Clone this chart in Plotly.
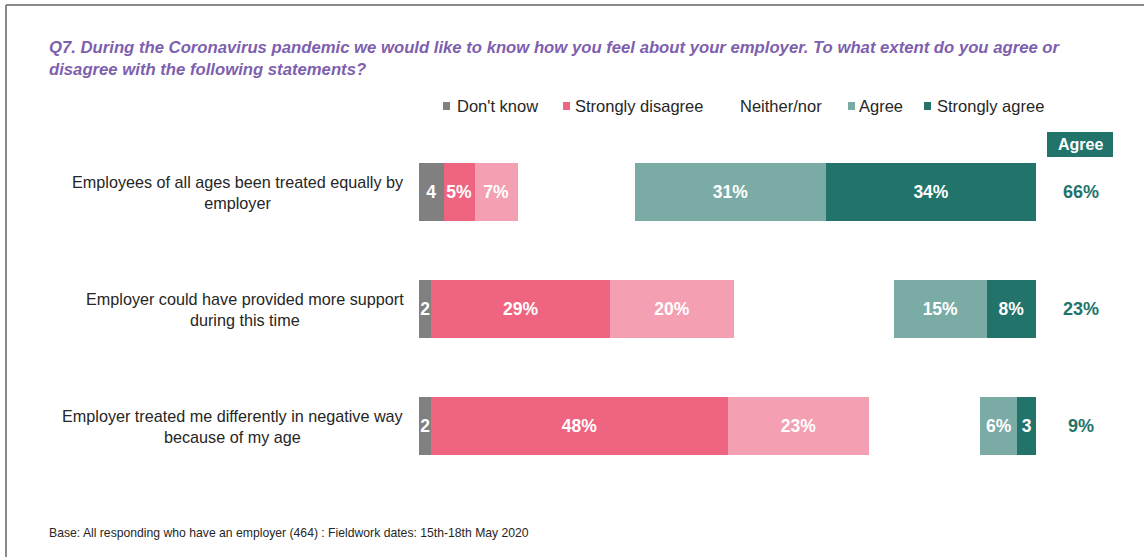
import plotly.graph_objects as go

W, H = 1144, 557

statements = [
    "Employees of all ages been treated equally by<br>employer",
    "Employer could have provided more support<br>during this time",
    "Employer treated me differently in negative way<br>because of my age",
]
series_names = ["Don't know", "Strongly disagree", "Disagree", "Neither/nor", "Agree", "Strongly agree"]
dont_know = [4, 2, 2]
strongly_disagree = [5, 29, 48]
disagree = [7, 20, 23]
neither = [19, 26, 18]
agree = [31, 15, 6]
strongly_agree = [34, 8, 3]
agree_net = [66, 23, 9]
legend_labels = ["Don't know", "Strongly disagree", "Neither/nor", "Agree", "Strongly agree"]

colors = ["#808080", "#ef6480", "#f4a0b2", "rgba(0,0,0,0)", "#7aaba5", "#22736a"]
show_text = [True, True, True, False, True, True]

FONT = "Arial, Liberation Sans, sans-serif"


def px(x):
    return x / W


def py(y):
    return 1 - y / H


def lab(v):
    return str(v) if v < 5 else f"{v}%"


fig = go.Figure()
all_series = [dont_know, strongly_disagree, disagree, neither, agree, strongly_agree]
for name, vals, col, st in zip(series_names, all_series, colors, show_text):
    fig.add_trace(go.Bar(
        y=statements, x=vals, orientation="h", name=name,
        marker=dict(color=col, line=dict(width=0)),
        text=[lab(v) for v in vals] if st else None,
        textposition="inside" if st else "none",
        insidetextanchor="middle", textangle=0, constraintext="none",
        textfont=dict(family=FONT, size=17.5, color="white", weight="bold"),
        showlegend=False, hoverinfo="x+name",
    ))

annotations = []
# title
annotations.append(dict(
    x=px(47), y=py(36), xref="paper", yref="paper", xanchor="left", yanchor="top",
    align="left", showarrow=False,
    text="<b><i>Q7. During the Coronavirus pandemic we would like to know how you feel about your employer. To what extent do you agree or<br>disagree with the following statements?</i></b>",
    font=dict(family=FONT, size=16.7, color="#7e5fae"),
))
# category labels
for s in statements:
    annotations.append(dict(
        x=px(406), y=s, xref="paper", yref="y", xanchor="right", yanchor="middle",
        align="center", showarrow=False, text=s,
        font=dict(family=FONT, size=16.2, color="#262626"),
    ))
# agree net values
for s, v in zip(statements, agree_net):
    annotations.append(dict(
        x=px(1081), y=s, xref="paper", yref="y", xanchor="center", yanchor="middle",
        showarrow=False, text=f"<b>{v}%</b>",
        font=dict(family=FONT, size=18, color="#22736a"),
    ))
# header box
annotations.append(dict(
    x=px(1080), y=py(145), xref="paper", yref="paper", xanchor="center", yanchor="middle",
    showarrow=False, text="<b>Agree</b>",
    font=dict(family=FONT, size=16, color="white"),
))
# legend
legend_pos = [(443, 455), (563, 573), (None, 738), (848, 857), (924, 935)]
legend_cols = [colors[0], colors[1], None, colors[4], colors[5]]
shapes = []
for name, (sx, tx), col in zip(legend_labels, legend_pos, legend_cols):
    if col is not None:
        shapes.append(dict(type="rect", xref="paper", yref="paper",
                           x0=px(sx), x1=px(sx + 7), y0=py(110), y1=py(102),
                           fillcolor=col, line=dict(width=0)))
    annotations.append(dict(
        x=px(tx), y=py(106), xref="paper", yref="paper", xanchor="left", yanchor="middle",
        showarrow=False, text=name, font=dict(family=FONT, size=16.5, color="#262626"),
    ))
# footnote
annotations.append(dict(
    x=px(47), y=py(533), xref="paper", yref="paper", xanchor="left", yanchor="middle",
    showarrow=False,
    text="Base: All responding who have an employer (464) : Fieldwork dates: 15th-18th May 2020",
    font=dict(family=FONT, size=12.2, color="#262626"),
))

shapes.append(dict(type="rect", xref="paper", yref="paper",
                   x0=px(1047), x1=px(1113), y0=py(157), y1=py(132),
                   fillcolor="#22736a", line=dict(width=0), layer="below"))
# frame
shapes.append(dict(type="line", xref="paper", yref="paper", x0=px(6), x1=px(6), y0=0, y1=py(5),
                   line=dict(color="#8a8a8a", width=2)))
shapes.append(dict(type="line", xref="paper", yref="paper", x0=px(6), x1=1, y0=py(5), y1=py(5),
                   line=dict(color="#8a8a8a", width=2)))

fig.update_layout(
    width=W, height=H, barmode="stack", bargap=0.51,
    margin=dict(l=0, r=0, t=0, b=0),
    paper_bgcolor="white", plot_bgcolor="white",
    xaxis=dict(domain=[px(419), px(1036)], range=[0, 100], visible=False, fixedrange=True),
    yaxis=dict(domain=[py(484.5), py(133.5)], autorange="reversed", visible=False,
               categoryorder="array", categoryarray=statements),
    annotations=annotations, shapes=shapes,
    font=dict(family=FONT),
)

fig.write_html("out.html", config={"displayModeBar": False},
               post_script="document.body.style.margin='0px';")
